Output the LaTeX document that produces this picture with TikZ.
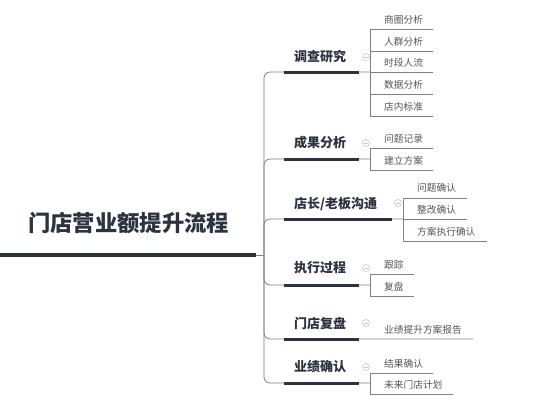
\documentclass[tikz,border=0pt]{standalone}
\usepackage{fontspec}
\setmainfont{Noto Sans CJK SC}
\definecolor{ink}{HTML}{2B3240}
\definecolor{wire}{HTML}{808080}
\definecolor{subtxt}{HTML}{555555}
\definecolor{foldc}{HTML}{C8C8C8}
\begin{document}
\begin{tikzpicture}[x=1pt,y=-1pt,
  wireline/.style={draw=wire,line width=0.8pt},
  trunkline/.style={wireline,rounded corners=6pt},
  underl/.style={draw=ink,line width=3pt},
  rootul/.style={draw=ink,line width=3.5pt},
  roottxt/.style={font=\fontsize{22.3}{25}\selectfont\bfseries,text=ink,inner sep=0pt,anchor=west},
  brtxt/.style={font=\fontsize{13}{15}\selectfont\bfseries,text=ink,inner sep=0pt,anchor=west},
  subl/.style={font=\fontsize{9.7}{11}\selectfont,text=subtxt,inner sep=0pt,anchor=west},
  fold/.style={circle,draw=foldc,line width=0.6pt,minimum size=7pt,inner sep=0pt,
    path picture={\draw[foldc,line width=0.6pt] ([xshift=-2pt]path picture bounding box.center) -- ([xshift=2pt]path picture bounding box.center);}}
]
\useasboundingbox (0,0) rectangle (540,400);
\fill[white] (0,0) rectangle (540,400);

% root
\node[roottxt] (root) at (28,223) {门店营业额提升流程};
\coordinate (rootL) at (0,255);
\coordinate (rootR) at (256,255);
\coordinate (hub) at (264,255);
\draw[rootul] (rootL) -- (rootR);
\draw[wireline] (rootR) -- (hub);

% branch coordinates
\coordinate (b1) at (370,72);
\coordinate (b2) at (370,159);
\coordinate (b3) at (403,219);
\coordinate (b4) at (370,285);
\coordinate (b5) at (473,339);
\coordinate (b6) at (370,383);

\foreach \b in {b1,b2,b3,b4,b5,b6}{
  \draw[trunkline] (hub) |- (\b);
}

% thick underlines
\draw[underl] (284,72) -- (359,72);
\draw[underl] (284,159) -- (359,159);
\draw[underl] (284,219) -- (392,219);
\draw[underl] (284,285) -- (359,285);
\draw[underl] (284,339) -- (359,339);
\draw[underl] (284,383) -- (359,383);

% branch texts
\node[brtxt] (t1) at (294,57) {调查研究};
\node[brtxt] (t2) at (294,143) {成果分析};
\node[brtxt] (t3) at (294,204) {店长/老板沟通};
\node[brtxt] (t4) at (294,268) {执行过程};
\node[brtxt] (t5) at (294,323) {门店复盘};
\node[brtxt] (t6) at (294,367) {业绩确认};

% fold markers
\node[fold] (f1) at (366,57) {};
\node[fold] (f2) at (366,143) {};
\node[fold] (f3) at (398,203) {};
\node[fold] (f4) at (366,268) {};
\node[fold] (f5) at (366,323) {};
\node[fold] (f6) at (366,367) {};

% branch 1 subtopics
\coordinate (s11) at (370,29);
\coordinate (s15) at (370,116);
\draw[wireline] (s11) -- (s15);
\foreach \yy in {29,51,72,94,116}{
  \draw[wireline] (370,\yy) -- (433,\yy);
}
\node[subl] (l11) at (384,20) {商圈分析};
\node[subl] (l12) at (384,42) {人群分析};
\node[subl] (l13) at (384,63) {时段人流};
\node[subl] (l14) at (384,85) {数据分析};
\node[subl] (l15) at (384,107) {店内标准};

% branch 2 subtopics
\coordinate (s21) at (370,148);
\coordinate (s22) at (370,170);
\draw[wireline] (s21) -- (s22);
\draw[wireline] (s21) -- (433,148);
\draw[wireline] (s22) -- (433,170);
\node[subl] (l21) at (384,139) {问题记录};
\node[subl] (l22) at (384,161) {建立方案};

% branch 3 subtopics
\coordinate (s31) at (403,198);
\coordinate (s33) at (403,241);
\draw[wireline] (s31) -- (s33);
\draw[wireline] (s31) -- (467,198);
\draw[wireline] (b3) -- (467,219);
\draw[wireline] (s33) -- (487,241);
\node[subl] (l31) at (417,188) {问题确认};
\node[subl] (l32) at (417,210) {整改确认};
\node[subl] (l33) at (417,232) {方案执行确认};

% branch 4 subtopics
\coordinate (s41) at (370,274);
\coordinate (s42) at (370,296);
\draw[wireline] (s41) -- (s42);
\draw[wireline] (s41) -- (414,274);
\draw[wireline] (s42) -- (414,296);
\node[subl] (l41) at (384,265) {跟踪};
\node[subl] (l42) at (384,287) {复盘};

% branch 5 subtopic
\node[subl] (l51) at (384,330) {业绩提升方案报告};

% branch 6 subtopics
\coordinate (s61) at (370,373);
\coordinate (s62) at (370,394);
\draw[wireline] (s61) -- (s62);
\draw[wireline] (s61) -- (433,373);
\draw[wireline] (s62) -- (453,394);
\node[subl] (l61) at (384,364) {结果确认};
\node[subl] (l62) at (384,385) {未来门店计划};
\end{tikzpicture}
\end{document}
